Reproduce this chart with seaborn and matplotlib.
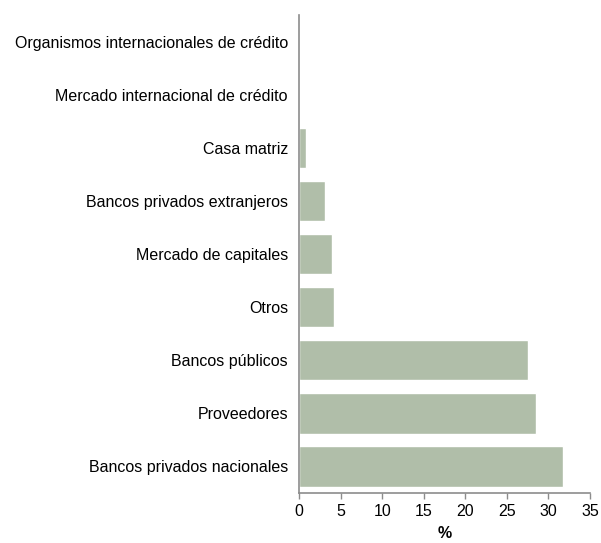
import matplotlib
matplotlib.use("Agg")
import matplotlib.pyplot as plt
import seaborn as sns
import pandas as pd

# Datos
categorias = [
    "Organismos internacionales de crédito",
    "Mercado internacional de crédito",
    "Casa matriz",
    "Bancos privados extranjeros",
    "Mercado de capitales",
    "Otros",
    "Bancos públicos",
    "Proveedores",
    "Bancos privados nacionales",
]
valores = [0.0, 0.0, 0.9, 3.1, 4.0, 4.2, 27.6, 28.5, 31.8]

df = pd.DataFrame({"categoria": categorias, "valor": valores})

sns.set_style("white")
plt.rcParams["font.family"] = ["Liberation Sans", "DejaVu Sans"]
plt.rcParams["text.color"] = "black"
plt.rcParams["xtick.color"] = "black"
plt.rcParams["ytick.color"] = "black"

fig = plt.figure(figsize=(6.01, 5.43), dpi=100)
ax = fig.add_axes([0.4975, 0.092, 0.4842, 0.88])

sns.barplot(data=df, x="valor", y="categoria", color="#b0bea9",
            saturation=1, width=0.76, ax=ax)

ax.set_xlim(0, 35)
ax.set_xticks(range(0, 36, 5))
ax.set_xlabel("%", fontsize=11.5, fontweight="bold", labelpad=5, color="black")
ax.set_ylabel("")
ax.tick_params(axis="x", labelsize=11.5, length=4, width=1, color="#8c8c8c",
               labelcolor="black", direction="out", bottom=True, pad=4)
ax.tick_params(axis="y", labelsize=11.5, length=0, pad=8, labelcolor="black")

for s in ["top", "right"]:
    ax.spines[s].set_visible(False)
for s in ["left", "bottom"]:
    ax.spines[s].set_color("#8c8c8c")
    ax.spines[s].set_linewidth(1.2)

fig.savefig("out.png", dpi=100)
